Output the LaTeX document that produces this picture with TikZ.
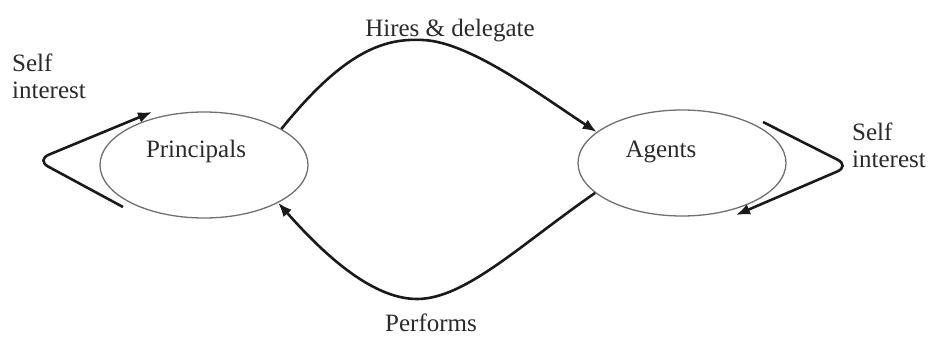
\documentclass[tikz,border=0pt]{standalone}
\usepackage{fontspec}
\setmainfont{Liberation Serif}
\usetikzlibrary{arrows.meta,shapes.geometric}
\definecolor{inkline}{HTML}{1A1A1A}
\definecolor{inktext}{HTML}{2A2A2A}
\definecolor{ringline}{HTML}{707070}
\begin{document}
\begin{tikzpicture}[x=1pt,y=-1pt,
  party/.style={draw=ringline,line width=1.3pt,ellipse,minimum width=208pt,minimum height=106pt,inner sep=0pt},
  lbl/.style={text=inktext,inner sep=0pt,font=\fontsize{25}{27}\selectfont},
  flow/.style={draw=inkline,line width=2.6pt,-{Latex[length=14pt,width=11pt]}},
  loop/.style={flow,rounded corners=14pt}]
\useasboundingbox (0,0) rectangle (929,337);

% the two parties
\node[party] (P) at (204,165) {};
\node[party] (A) at (682,163) {};
\node[lbl,anchor=base] (Ptxt) at (196,157) {Principals};
\node[lbl,anchor=base] (Atxt) at (661,157) {Agents};

% delegation above, performance below
\draw[flow] (P.25) .. controls (345,50) and (385,38) .. (423,40)
  .. controls (470,42) and (540,95) .. (A.160);
\draw[flow] (A.199) .. controls (520,245) and (465,299) .. (417,299)
  .. controls (370,299) and (320,250) .. (P.-27);
\node[lbl,anchor=base] (hires) at (450,37) {Hires \& delegate};
\node[lbl,anchor=base] (perf) at (431,331) {Performs};

% self-interest loops
\coordinate (ls) at (123,207);
\coordinate (le) at (152,112);
\draw[loop] (ls) -- (36,160) -- (le);
\coordinate (rs) at (763,122);
\coordinate (re) at (736,215);
\draw[loop] (rs) -- (850,166) -- (re);
\node[lbl,anchor=base west,align=left] (selfP) at (12,98) {Self\\interest};
\node[lbl,anchor=base west,align=left] (selfA) at (852,167) {Self\\interest};
\end{tikzpicture}
\end{document}
